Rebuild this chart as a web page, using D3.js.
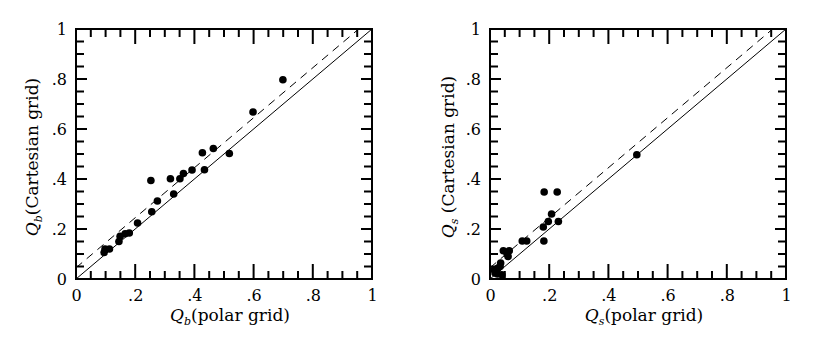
<!DOCTYPE html>
<html>
<head>
<meta charset="utf-8">
<script src="https://cdn.jsdelivr.net/npm/d3@7"></script>
<style>
body { margin: 0; background: #fff; }
svg text { font-family: "DejaVu Serif", serif; fill: #000; }
.domain { display: none; }
</style>
</head>
<body>
<svg id="chart" width="830" height="356"></svg>
<script>
'use strict';

const majorTicks = [0, 0.2, 0.4, 0.6, 0.8, 1];
const minorTicks = [0.05, 0.1, 0.15, 0.25, 0.3, 0.35, 0.45, 0.5, 0.55, 0.65, 0.7, 0.75, 0.85, 0.9, 0.95];
const tickLabels = ['0', '.2', '.4', '.6', '.8', '1'];
const dashOffset = 0.045;

const barPolar = [0.095, 0.098, 0.113, 0.145, 0.149, 0.166, 0.18, 0.208, 0.253, 0.256, 0.275, 0.319, 0.33, 0.351, 0.363, 0.392, 0.427, 0.434, 0.464, 0.518, 0.598, 0.699];
const barCart  = [0.106, 0.12, 0.12, 0.15, 0.171, 0.181, 0.184, 0.224, 0.394, 0.269, 0.312, 0.401, 0.34, 0.401, 0.422, 0.436, 0.505, 0.437, 0.522, 0.502, 0.668, 0.797];

const spiralPolar = [0.017, 0.025, 0.014, 0.027, 0.04, 0.036, 0.034, 0.045, 0.065, 0.061, 0.058, 0.109, 0.124, 0.182, 0.18, 0.197, 0.208, 0.231, 0.183, 0.227, 0.496];
const spiralCart  = [0.024, 0.02, 0.037, 0.044, 0.017, 0.064, 0.05, 0.113, 0.113, 0.09, 0.1, 0.152, 0.152, 0.152, 0.208, 0.23, 0.26, 0.23, 0.348, 0.348, 0.497];

const svg = d3.select('#chart');
const width = 296, height = 250;

const panel = (left, top, xs, ys, sub, ySpace) => {
	let g = svg.append('g').attr('transform', `translate(${left},${top})`),
		x = d3.scaleLinear().domain([0, 1]).range([0, width]),
		y = d3.scaleLinear().domain([0, 1]).range([height, 0]),
		fmt = d => tickLabels[majorTicks.indexOf(d)],
		ticks = majorTicks.map(v => ({ v, h: 15, w: 11 }))
			.concat(minorTicks.map(v => ({ v, h: 8, w: 8 }))),
		p = d3.path();

	// inward ticks on all four sides, one path
	ticks.forEach(d => {
		p.moveTo(x(d.v), height); p.lineTo(x(d.v), height - d.h);
		p.moveTo(x(d.v), 0); p.lineTo(x(d.v), d.h);
		p.moveTo(0, y(d.v)); p.lineTo(d.w, y(d.v));
		p.moveTo(width, y(d.v)); p.lineTo(width - d.w, y(d.v));
	});
	g.append('path')
		.attr('d', p.toString())
		.attr('fill', 'none')
		.attr('stroke', '#000')
		.attr('stroke-width', 2);

	// labels
	g.append('g').attr('class', 'lab').attr('transform', `translate(0,${height})`)
		.call(d3.axisBottom(x).tickValues(majorTicks).tickSize(0).tickPadding(11).tickFormat(fmt));
	g.append('g').attr('class', 'lab')
		.call(d3.axisLeft(y).tickValues(majorTicks).tickSize(0).tickPadding(9).tickFormat(fmt));
	g.selectAll('.lab .tick text').attr('font-size', 16).attr('font-family', '"DejaVu Serif", serif').attr('fill', '#000');
	g.selectAll('.lab .tick line').remove();

	g.append('rect')
		.attr('width', width).attr('height', height)
		.attr('fill', 'none').attr('stroke', '#000').attr('stroke-width', 2);

	// y = x and the offset dashed line
	g.append('line')
		.attr('x1', x(0)).attr('y1', y(0)).attr('x2', x(1)).attr('y2', y(1))
		.attr('stroke', '#000').attr('stroke-width', 1);
	g.append('line')
		.attr('x1', x(0)).attr('y1', y(dashOffset)).attr('x2', x(1 - dashOffset)).attr('y2', y(1))
		.attr('stroke', '#000').attr('stroke-width', 1).attr('stroke-dasharray', '8,6');

	g.selectAll('circle').data(xs).enter().append('circle')
		.attr('cx', (d, i) => x(d))
		.attr('cy', (d, i) => y(ys[i]))
		.attr('r', 3.8)
		.attr('fill', '#000');

	let xl = g.append('text')
		.attr('x', width / 2 + 6).attr('y', height + 42)
		.attr('text-anchor', 'middle').attr('font-size', 17);
	xl.append('tspan').attr('font-style', 'italic').text('Q');
	xl.append('tspan').attr('font-size', 11).attr('font-style', 'italic').attr('dy', 4).text(sub);
	xl.append('tspan').attr('dy', -4).text('(polar grid)');

	let yl = g.append('text')
		.attr('transform', `translate(${ySpace ? -36 : -38},${height / 2 + 3}) rotate(-90)`)
		.attr('text-anchor', 'middle').attr('font-size', 17);
	yl.append('tspan').attr('font-style', 'italic').text('Q');
	yl.append('tspan').attr('font-size', 11).attr('font-style', 'italic').attr('dy', 4).text(sub);
	yl.append('tspan').attr('dy', -4).text((ySpace ? ' ' : '') + '(Cartesian grid)');
};

panel(76, 29, barPolar, barCart, 'b', false);
panel(490, 29, spiralPolar, spiralCart, 's', true);
</script>
</body>
</html>
